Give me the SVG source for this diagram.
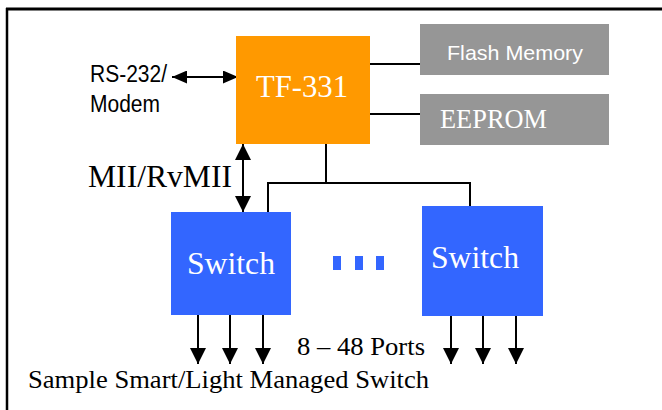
<svg xmlns="http://www.w3.org/2000/svg" width="662" height="410" viewBox="0 0 662 410">
<style>
.serif{font-family:"Liberation Serif","Times New Roman",serif;}
.narrow{font-family:"Liberation Sans Narrow","Liberation Sans",Arial,sans-serif;}
.w{fill:#ffffff;}
.k{fill:#000000;}
.ln{stroke:#000;stroke-width:2;fill:none;}
</style>
<defs>
<marker id="ah" viewBox="0 0 16 16" refX="16" refY="8" markerWidth="16" markerHeight="16" markerUnits="userSpaceOnUse" orient="auto-start-reverse">
<path d="M0,0 L16,8 L0,16 Z" fill="#000"/>
</marker>
<marker id="ahs" viewBox="0 0 15 13" refX="15" refY="6.5" markerWidth="15" markerHeight="13" markerUnits="userSpaceOnUse" orient="auto-start-reverse">
<path d="M0,0 L15,6.5 L0,13 Z" fill="#000"/>
</marker>
</defs>
<rect width="662" height="410" fill="#fff"/>
<g id="frame">
<line x1="6" y1="9" x2="662" y2="9" stroke="#000" stroke-width="3"/>
<line x1="7" y1="8" x2="7" y2="410" stroke="#000" stroke-width="2.5"/>
</g>
<g id="connectors">
<line class="ln" x1="370" y1="64" x2="420" y2="64"/>
<line class="ln" x1="370" y1="114" x2="420" y2="114"/>
<polyline class="ln" points="326,144 326,183"/>
<polyline class="ln" points="268,212 268,183 470,183 470,206"/>
<line class="ln" x1="172" y1="77" x2="238" y2="77" marker-start="url(#ahs)" marker-end="url(#ahs)"/>
<line class="ln" x1="243" y1="144" x2="243" y2="212" marker-start="url(#ah)" marker-end="url(#ah)"/>
<line class="ln" x1="198" y1="315" x2="198" y2="364" marker-end="url(#ah)"/>
<line class="ln" x1="230" y1="315" x2="230" y2="364" marker-end="url(#ah)"/>
<line class="ln" x1="263" y1="315" x2="263" y2="364" marker-end="url(#ah)"/>
<line class="ln" x1="451" y1="316" x2="451" y2="364" marker-end="url(#ah)"/>
<line class="ln" x1="483" y1="316" x2="483" y2="364" marker-end="url(#ah)"/>
<line class="ln" x1="516" y1="316" x2="516" y2="364" marker-end="url(#ah)"/>
</g>
<g id="tf331">
<rect x="236" y="36" width="134" height="108" fill="#FF9900"/>
<text class="serif w" x="256" y="97" font-size="31" textLength="92" lengthAdjust="spacingAndGlyphs">TF-331</text>
</g>
<g id="flash">
<rect x="420" y="24" width="189" height="51" fill="#969696"/>
<text class="narrow w" x="447" y="60" font-size="21" textLength="136" lengthAdjust="spacingAndGlyphs">Flash Memory</text>
</g>
<g id="eeprom">
<rect x="420" y="94" width="189" height="51" fill="#969696"/>
<text class="serif w" x="440" y="128" font-size="26.5" textLength="107" lengthAdjust="spacingAndGlyphs">EEPROM</text>
</g>
<g id="switch1">
<rect x="171" y="212" width="120" height="103" fill="#3366FF"/>
<text class="serif w" x="187" y="274" font-size="31.5" textLength="88" lengthAdjust="spacingAndGlyphs">Switch</text>
</g>
<g id="switch2">
<rect x="422" y="206" width="121" height="110" fill="#3366FF"/>
<text class="serif w" x="431" y="268" font-size="31.5" textLength="88" lengthAdjust="spacingAndGlyphs">Switch</text>
</g>
<g id="dots" fill="#3366FF">
<rect x="333" y="256" width="8" height="14"/>
<rect x="355" y="256" width="8" height="14"/>
<rect x="376" y="256" width="8" height="14"/>
</g>
<g id="labels">
<text class="narrow k" x="90" y="82" font-size="23.5" textLength="77" lengthAdjust="spacingAndGlyphs">RS-232/</text>
<text class="narrow k" x="90" y="112" font-size="23.5" textLength="70" lengthAdjust="spacingAndGlyphs">Modem</text>
<text class="serif k" x="88" y="187" font-size="31" textLength="144" lengthAdjust="spacingAndGlyphs">MII/RvMII</text>
<text class="serif k" x="297" y="355" font-size="26" textLength="128" lengthAdjust="spacingAndGlyphs">8 – 48 Ports</text>
<text class="serif k" x="28" y="388" font-size="26" textLength="401" lengthAdjust="spacingAndGlyphs">Sample Smart/Light Managed Switch</text>
</g>
</svg>
